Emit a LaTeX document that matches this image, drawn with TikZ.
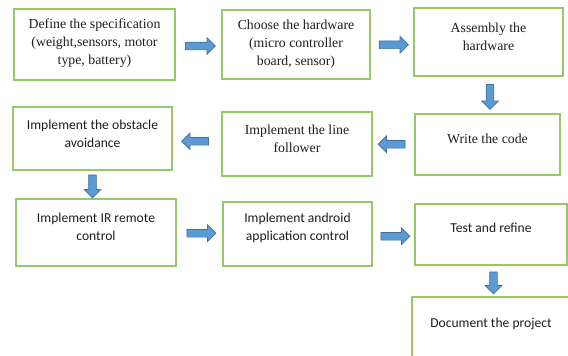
\documentclass[tikz,border=0pt]{standalone}
\usepackage{fontspec}
\newfontfamily\serifbox{Liberation Serif}
\newfontfamily\sansbox{Carlito}
\usetikzlibrary{shapes.arrows,calc}
\definecolor{boxgreen}{RGB}{150,202,104}
\definecolor{arrowfill}{RGB}{91,155,213}
\definecolor{arrowedge}{RGB}{65,113,156}
\definecolor{inktext}{RGB}{30,30,30}
\tikzset{
  box/.style={draw=boxgreen, line width=1.8pt, fill=white, inner sep=0pt},
  txt/.style={anchor=north, inner sep=0pt, align=center, text=inktext},
  serif/.style={txt, font=\fontsize{13.8}{17.8}\selectfont\serifbox},
  sans/.style={txt, font=\fontsize{13.6}{18}\selectfont\sansbox},
  barrow/.style={single arrow, draw=arrowedge, fill=arrowfill, line width=0.7pt,
    inner sep=3.5pt, minimum width=16pt, single arrow head extend=4.5pt,
    single arrow tip angle=90},
}
\begin{document}
\begin{tikzpicture}[x=1pt,y=-1pt]
\useasboundingbox (0,0) rectangle (568,356);
\clip (0,0) rectangle (568,356);
\fill[white] (0,0) rectangle (568,356);

% process boxes
\node[box, minimum width=161pt, minimum height=71pt] (spec)   at (94.5,44.5) {};
\node[box, minimum width=148pt, minimum height=69pt] (hw)     at (296,44.5)  {};
\node[box, minimum width=149pt, minimum height=68pt] (asm)    at (488.5,42)  {};
\node[box, minimum width=159pt, minimum height=63pt] (obst)   at (92.5,138.5) {};
\node[box, minimum width=150pt, minimum height=64pt] (line)   at (297,144)   {};
\node[box, minimum width=145pt, minimum height=61pt] (code)   at (487.5,144.5) {};
\node[box, minimum width=160pt, minimum height=67pt] (ir)     at (96,232.5)  {};
\node[box, minimum width=149pt, minimum height=64pt] (app)    at (297.5,234) {};
\node[box, minimum width=152pt, minimum height=61pt] (test)   at (491,234.5) {};
\node[box, minimum width=160pt, minimum height=65pt] (doc)    at (492,329.5) {};

% box texts
\node[serif] (specT) at (94.5,16) {\strut Define the specification\\\strut (weight,sensors, motor\\\strut type, battery)};
\node[serif] (hwT)   at (296,17)  {\strut Choose the hardware\\\strut (micro controller\\\strut board, sensor)};
\node[serif] (asmT)  at (488.5,20) {\strut Assembly the\\\strut hardware};
\node[sans]  (obstT) at (92.5,117) {\strut Implement the obstacle\\\strut avoidance};
\node[serif] (lineT) at (297,122) {\strut Implement the line\\\strut follower};
\node[serif] (codeT) at (487.5,131) {\strut Write the code};
\node[sans]  (irT)   at (96,210) {\strut Implement IR remote\\\strut control};
\node[sans]  (appT)  at (297.5,210) {\strut Implement android\\\strut application control};
\node[sans]  (testT) at (491,220) {\strut Test and refine};
\node[sans]  (docT)  at (491,315) {\strut Document the project};

% block arrows between the steps
\node[barrow, minimum height=30pt] (a1) at ($(spec.east)!0.5!(hw.west)+(0,1.5)$) {};
\node[barrow, minimum height=29pt] (a2) at ($(hw.east)!0.5!(asm.west)+(0,1.5)$) {};
\node[barrow, minimum height=25pt, shape border rotate=270] (a3) at ($(asm.south)!0.5!(code.north)+(2,0)$) {};
\node[barrow, minimum height=27pt, shape border rotate=180] (a4) at ($(code.west)!0.5!(line.east)$) {};
\node[barrow, minimum height=27pt, shape border rotate=180] (a5) at ($(line.west)!0.5!(obst.east)$) {};
\node[barrow, minimum height=23pt, shape border rotate=270] (a6) at ($(obst.south)!0.5!(obst.south|-ir.north)$) {};
\node[barrow, minimum height=29pt] (a7) at ($(ir.east)!0.5!(app.west)$) {};
\node[barrow, minimum height=29pt] (a8) at ($(app.east)!0.5!(test.west)+(0,2)$) {};
\node[barrow, minimum height=22pt, shape border rotate=270] (a9) at ($(test.south)!0.5!(doc.north)+(2,0)$) {};
\end{tikzpicture}
\end{document}
